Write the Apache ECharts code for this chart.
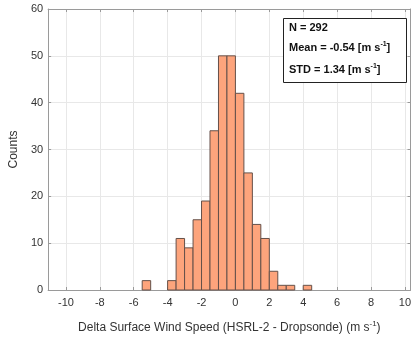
<!DOCTYPE html>
<html><head><meta charset="utf-8">
<script src="https://cdn.jsdelivr.net/npm/echarts@6/dist/echarts.min.js"></script>
<style>html,body{margin:0;padding:0;background:#fff}#c{width:414px;height:339px}</style>
</head><body><div id="c"></div>
<script>
const binStarts = [-5.5, -4, -3.5, -3, -2.5, -2, -1.5, -1, -0.5, 0, 0.5, 1, 1.5, 2, 2.5, 3, 4];
const binWidth = 0.5;
const counts = [2, 2, 11, 9, 15, 19, 34, 50, 50, 42, 25, 14, 11, 4, 1, 1, 1];
const xTicks = [-10, -8, -6, -4, -2, 0, 2, 4, 6, 8, 10];
const statLines = ['N = 292', 'Mean = -0.54 [m s{sup|-1}]', 'STD = 1.34 [m s{sup|-1}]'];

const FONT = 'Liberation Sans, Arial, Helvetica, sans-serif';
const data = binStarts.map((s, i) => [s, s + binWidth, counts[i]]);
const chart = echarts.init(document.getElementById('c'), null, {renderer: 'canvas'});
const gridCol = '#e8e8e8', axisCol = '#9a9a9a', labCol = '#333';
const option = {
  animation: false,
  grid: {left: 43, right: 3.5, top: 9, bottom: 46},
  xAxis: [{
    type: 'value', min: -11.05, max: 10.33,
    axisLine: {onZero: false, lineStyle: {color: axisCol}},
    axisTick: {inside: true, length: 3, customValues: xTicks, lineStyle: {color: axisCol}},
    axisLabel: {customValues: xTicks, color: labCol, fontFamily: FONT, fontSize: 11, margin: 7},
    splitLine: {show: true, lineStyle: {color: gridCol}},
    name: 'Delta Surface Wind Speed (HSRL-2 - Dropsonde) (m s{sup|-1})',
    nameLocation: 'middle', nameGap: 30,
    nameTextStyle: {color: labCol, fontFamily: FONT, fontSize: 12,
      rich: {sup: {fontSize: 8, verticalAlign: 'bottom', padding: [0,0,8,0], color: labCol, fontFamily: FONT}}}
  }, {
    type: 'value', min: -11.05, max: 10.33, position: 'top',
    axisLine: {onZero: false, lineStyle: {color: axisCol}},
    axisTick: {inside: true, length: 3, customValues: xTicks, lineStyle: {color: axisCol}},
    axisLabel: {show: false, customValues: xTicks}, splitLine: {show: false}
  }],
  yAxis: [{
    type: 'value', min: 0, max: 60, interval: 10, position: 'left',
    axisLine: {show: true, onZero: false, lineStyle: {color: axisCol}},
    axisTick: {show: true, inside: true, length: 3, lineStyle: {color: axisCol}},
    axisLabel: {color: labCol, fontFamily: FONT, fontSize: 11, margin: 5},
    splitLine: {show: true, lineStyle: {color: gridCol}},
    name: 'Counts', nameLocation: 'middle', nameGap: 23,
    nameTextStyle: {color: labCol, fontFamily: FONT, fontSize: 12}
  }, {
    type: 'value', min: 0, max: 60, interval: 10, position: 'right',
    axisLine: {show: true, onZero: false, lineStyle: {color: axisCol}},
    axisTick: {show: true, inside: true, length: 3, lineStyle: {color: axisCol}},
    axisLabel: {show: false}, splitLine: {show: false}
  }],
  series: [{
    type: 'custom',
    xAxisIndex: 0, yAxisIndex: 0,
    data: data,
    encode: {x: [0, 1], y: 2},
    renderItem: function (params, api) {
      const p0 = api.coord([api.value(0), api.value(2)]);
      const p1 = api.coord([api.value(1), 0]);
      return {
        type: 'rect',
        shape: {x: p0[0], y: p0[1], width: p1[0] - p0[0], height: p1[1] - p0[1]},
        style: {fill: '#fda47c', stroke: '#65514a', lineWidth: 1}
      };
    }
  }],
  graphic: [{
    type: 'rect', left: 283, top: 18, shape: {width: 123, height: 64},
    style: {fill: '#fff', stroke: '#222', lineWidth: 1}, z: 10
  }].concat(statLines.map((t, i) => ({
    type: 'text', left: 289, top: [22, 41, 63][i], z: 11,
    style: {text: t, fill: '#111', font: 'bold 11px ' + FONT,
      rich: {sup: {fontSize: 7, fontWeight: 'bold', fontFamily: FONT, fill: '#111', verticalAlign: 'bottom', padding: [0,0,7,0]}}}
  })))
};
chart.setOption(option);
</script></body></html>
